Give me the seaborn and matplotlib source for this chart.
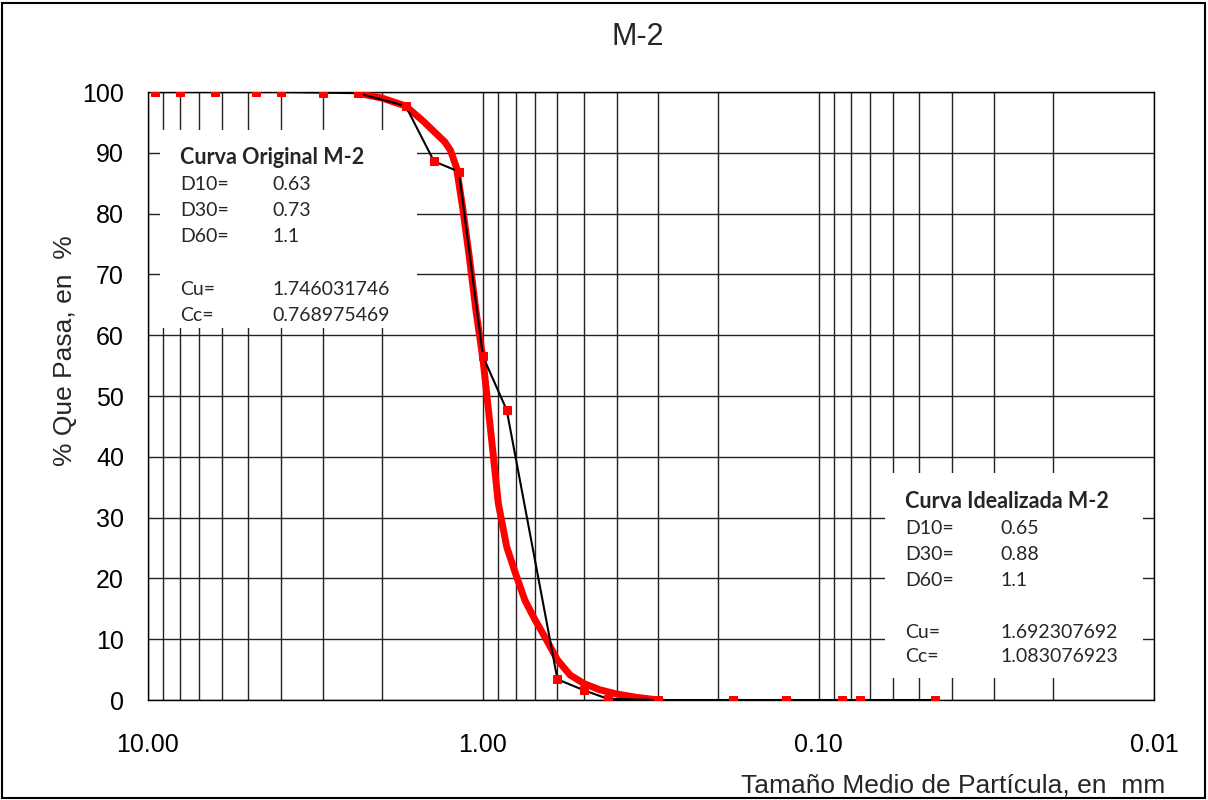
"""
Curva granulometrica M-2 (original vs idealizada).
"""

import matplotlib.pyplot as plt
import matplotlib.ticker as mticker
from matplotlib.patches import Rectangle
import pandas as pd
import seaborn as sns

# tamices y % que pasa, curva original
sizes_orig = [9.5, 8.0, 6.3, 4.75, 4.0, 3.0, 2.36, 1.7, 1.4, 1.18, 1.0, 0.85,
              0.6, 0.5, 0.425, 0.3, 0.18, 0.125, 0.085, 0.075, 0.045]
pass_orig = [100, 100, 100, 100, 100, 99.9, 99.8, 97.7, 88.6, 86.9, 56.5, 47.7,
             3.4, 1.6, 0.2, 0, 0, 0, 0, 0, 0]

# curva idealizada
sizes_ideal = [2.36, 2.0, 1.7, 1.5, 1.4, 1.3, 1.25, 1.2, 1.15, 1.1, 1.05, 1.0,
               0.95, 0.9, 0.85, 0.8, 0.75, 0.7, 0.65, 0.6, 0.55, 0.5, 0.45,
               0.4, 0.35, 0.3]
pass_ideal = [99.8, 99.0, 97.7, 95.1, 93.5, 91.8, 90.4, 87.6, 81.0, 73.1, 64.1,
              56.0, 44.6, 32.3, 25.2, 20.8, 16.4, 13.2, 10.1, 6.6, 4.1, 2.7,
              1.7, 1.0, 0.45, 0.0]

x_ticks = [10, 1, 0.1, 0.01]
y_ticks = list(range(0, 101, 10))

title = "M-2"
orig_title = "Curva Original M-2"
orig_labels = ["D10=", "D30=", "D60=", "", "Cu=", "Cc="]
orig_values = ["0.63", "0.73", "1.1", "", "1.746031746", "0.768975469"]
ideal_title = "Curva Idealizada M-2"
ideal_labels = ["D10=", "D30=", "D60=", "", "Cu=", "Cc="]
ideal_values = ["0.65", "0.88", "1.1", "", "1.692307692", "1.083076923"]

W, H = 1208, 800

sns.set_style("white")
plt.rcParams["font.family"] = ["Liberation Sans", "DejaVu Sans"]

df_orig = pd.DataFrame({"size": sizes_orig, "pasa": pass_orig})
df_ideal = pd.DataFrame({"size": sizes_ideal, "pasa": pass_ideal})

fig = plt.figure(figsize=(W / 100, H / 100), dpi=100)
ax = fig.add_axes([147.5 / W, 100 / H, (1154 - 147.5) / W, 608 / H])


def px_to_axes(x, y):
    return (x - 147.5) / (1154 - 147.5), (700 - y) / 608


sns.lineplot(data=df_ideal, x="size", y="pasa", ax=ax, sort=False,
             estimator=None, color="red", linewidth=5, zorder=4)
sns.lineplot(data=df_orig, x="size", y="pasa", ax=ax, sort=False,
             estimator=None, color="black", linewidth=1.5, marker="s",
             markersize=6, markerfacecolor="red", markeredgecolor="red",
             zorder=5)

ax.set_xscale("log")
ax.set_xlim(10, 0.01)
ax.set_ylim(0, 100)
ax.xaxis.set_major_locator(mticker.FixedLocator(x_ticks))
ax.xaxis.set_minor_locator(mticker.LogLocator(base=10, subs=range(2, 10)))
ax.xaxis.set_major_formatter(mticker.FuncFormatter(lambda v, p: f"{v:.2f}"))
ax.xaxis.set_minor_formatter(mticker.NullFormatter())
ax.set_yticks(y_ticks)

ax.grid(True, which="both", axis="x", color="#222222", linewidth=1.0, zorder=1)
ax.grid(True, which="major", axis="y", color="#222222", linewidth=1.0, zorder=1)
ax.set_axisbelow(True)

ax.tick_params(axis="x", which="major", length=7, width=1, direction="out",
               labelsize=18, pad=17, colors="black")
ax.tick_params(axis="x", which="minor", length=0)
ax.tick_params(axis="y", length=0, labelsize=18, pad=17, colors="black")
for sp in ax.spines.values():
    sp.set_color("black")
    sp.set_linewidth(1.0)

ax.set_ylabel("% Que Pasa, en  %", fontsize=19)
ax.yaxis.set_label_coords(*px_to_axes(65, 351))
ax.yaxis.label.set_va("center")
ax.set_xlabel("Tamaño Medio de Partícula, en  mm", fontsize=19)
ax.xaxis.set_label_coords(*px_to_axes(1165, 786))
ax.xaxis.label.set_ha("right")
ax.xaxis.label.set_va("center")

fig.text(638 / W, 1 - 37 / H, title, fontsize=22, ha="center", va="center")

# cajas de texto blancas
for (x0, y0, x1, y1) in [(160, 130, 417, 328), (885, 473, 1143, 678)]:
    ax0, ay0 = px_to_axes(x0, y1)
    ax1, ay1 = px_to_axes(x1, y0)
    ax.add_patch(Rectangle((ax0, ay0), ax1 - ax0, ay1 - ay0,
                           transform=ax.transAxes, facecolor="white",
                           edgecolor="none", zorder=2))


def stats_block(x_lab, x_val, y_head, ys, head, labels, values):
    fig.text(x_lab / W, 1 - y_head / H, head, fontsize=15.5, family="Lato",
             weight="bold", va="center", zorder=6)
    for y, lab, val in zip(ys, labels, values):
        if not lab:
            continue
        fig.text(x_lab / W, 1 - y / H, lab, fontsize=14, family="Lato",
                 va="center")
        fig.text(x_val / W, 1 - y / H, val, fontsize=14, family="Lato",
                 va="center")


stats_block(180, 272, 157, [184, 210, 236, 262, 289, 315],
            orig_title, orig_labels, orig_values)
stats_block(905, 1000, 501, [529, 554, 580, 606, 632, 657],
            ideal_title, ideal_labels, ideal_values)

# marco exterior
fig.patches.append(Rectangle((2 / W, 2 / H), (W - 5) / W, (H - 5) / H,
                             transform=fig.transFigure, fill=False,
                             edgecolor="black", linewidth=1.5))

fig.savefig("out.png", dpi=100)
